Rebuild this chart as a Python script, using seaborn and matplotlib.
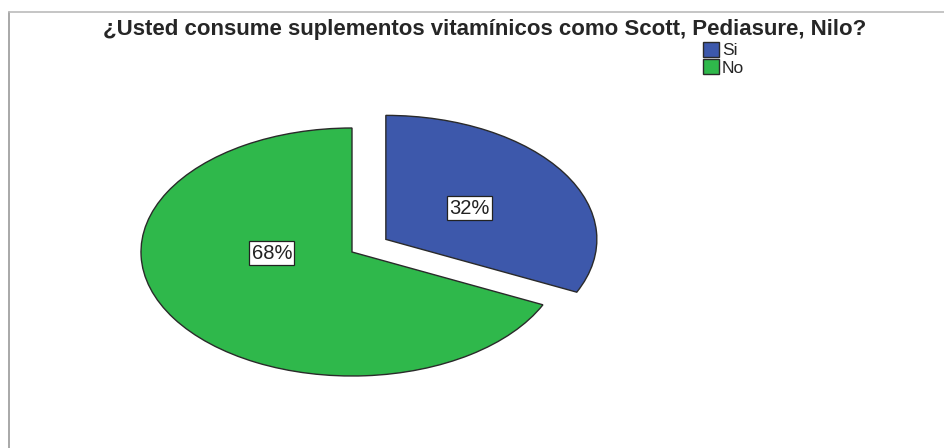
import matplotlib
matplotlib.use("Agg")
import matplotlib.pyplot as plt
import seaborn as sns

categorias = ["Si", "No"]
porcentajes = [32, 68]
colores = ["#3d58ab", "#2fb84b"]
titulo = "¿Usted consume suplementos vitamínicos como Scott, Pediasure, Nilo?"

sns.set_style("white")
plt.rcParams["font.family"] = ["Liberation Sans", "DejaVu Sans"]

W, H = 944, 448
fig = plt.figure(figsize=(W / 100, H / 100), dpi=100)
ax = fig.add_axes([0, 0, 1, 1])

# centro y radios de la elipse en pixeles
cx, cy, rx, ry = 352, 252, 211, 124

wedges, textos, pcts = ax.pie(
    porcentajes, labels=None, colors=colores, startangle=90, counterclock=False,
    explode=[0.19, 0], autopct="%1.0f%%", pctdistance=0.47,
    wedgeprops=dict(edgecolor="#2a2a2a", linewidth=1.0),
    textprops=dict(fontsize=14.5, color="#222222"),
)
for t in pcts:
    t.set_bbox(dict(facecolor="white", edgecolor="#222222", linewidth=0.9, pad=1.8))
# la etiqueta del 68% va a la izquierda, a la altura del centro
pcts[1].set_position((-0.38, -0.01))

ax.set_aspect("auto")
ax.set_xlim(-cx / rx, (W - cx) / rx)
ax.set_ylim(-(H - cy) / ry, cy / ry)
ax.axis("off")

fig.text(485 / W, 1 - 29 / H, titulo, ha="center", va="center", fontsize=16, fontweight="bold")

leg = fig.legend(wedges, categorias, loc="upper left", bbox_to_anchor=(703 / W, 1 - 42 / H),
                 frameon=False, fontsize=12.5, handlelength=0.95, handleheight=0.95,
                 handletextpad=0.15, labelspacing=0.05, borderaxespad=0, borderpad=0)

# marco gris
fig.add_artist(plt.Line2D([9 / W, 9 / W], [0, 1 - 12 / H], color="#999999", lw=1.2))
fig.add_artist(plt.Line2D([9 / W, 1], [1 - 12 / H, 1 - 12 / H], color="#bbbbbb", lw=1.2))

fig.savefig("out.png", dpi=100)
